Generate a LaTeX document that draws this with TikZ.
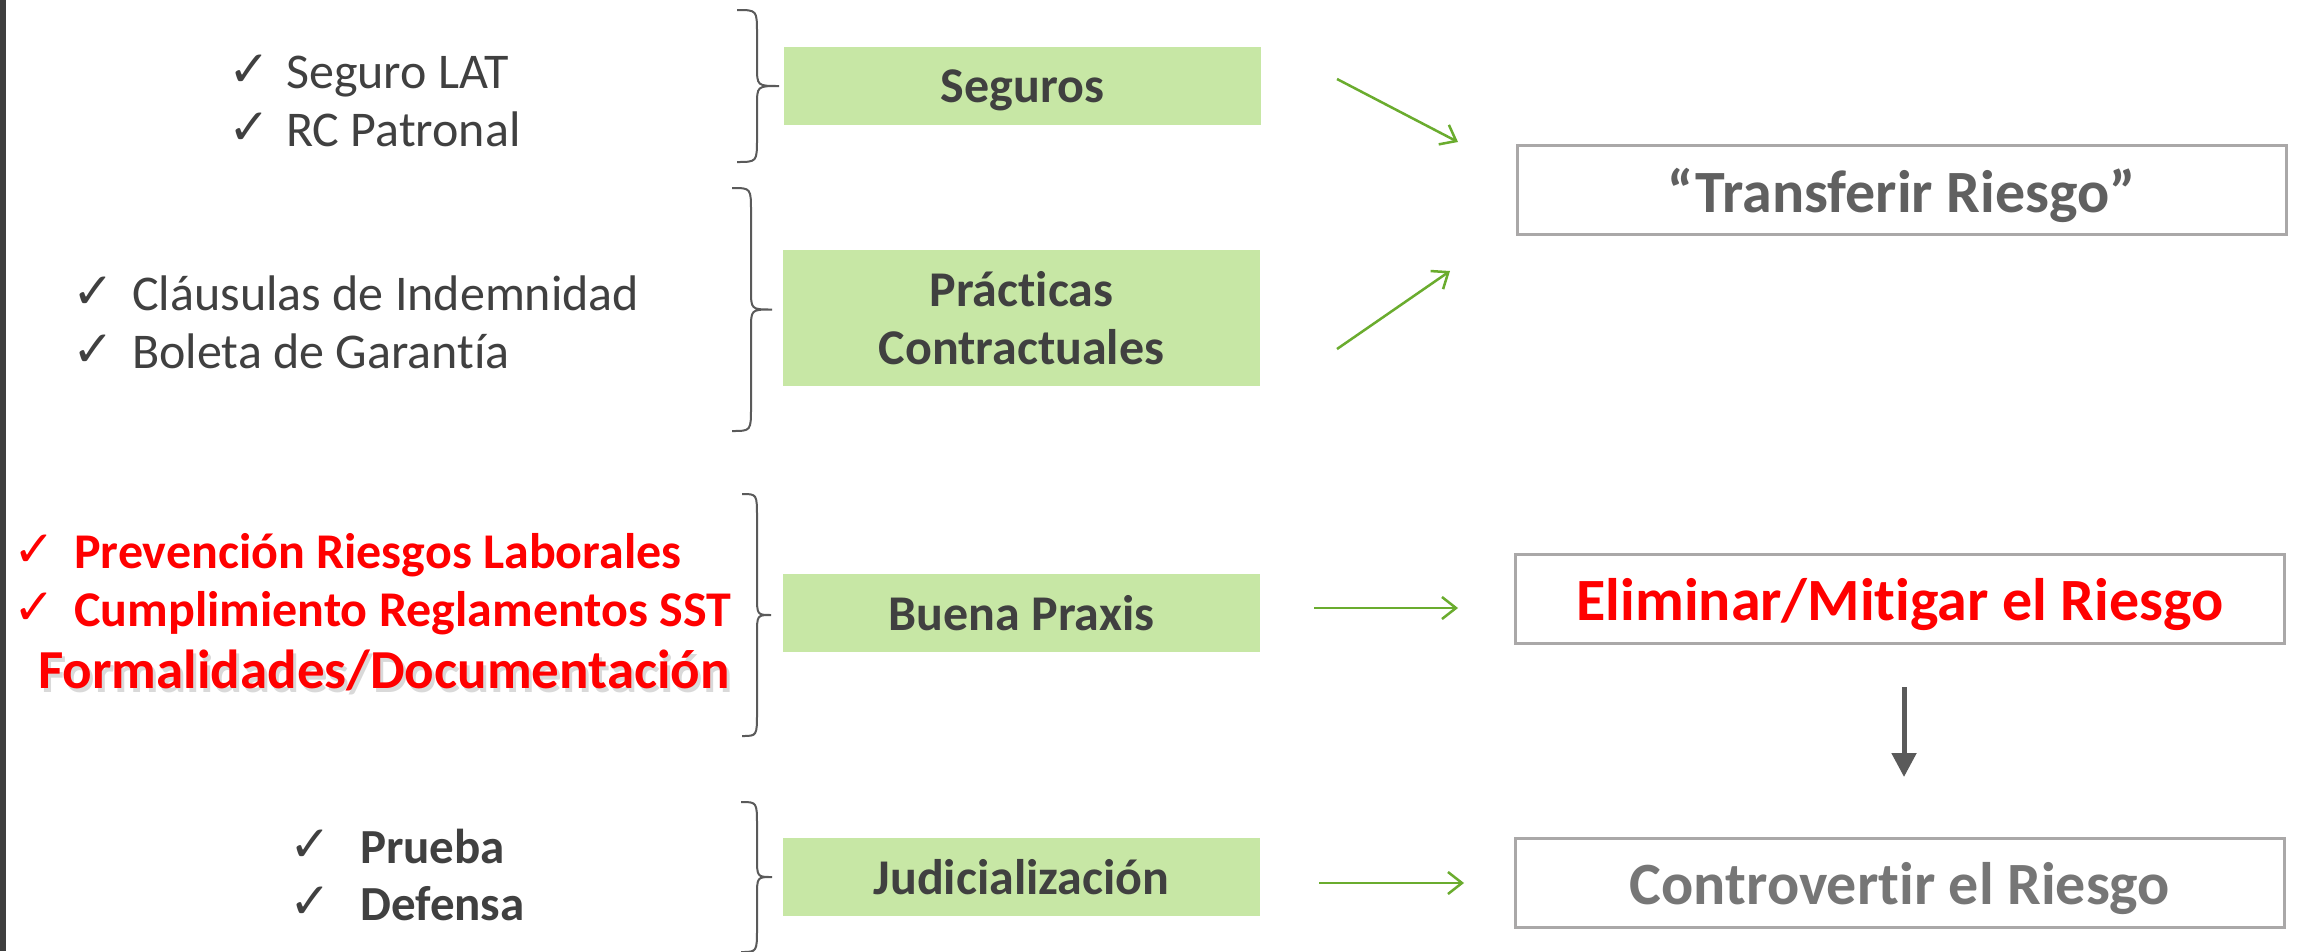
\documentclass[tikz,border=0pt]{standalone}
\usepackage{fontspec}
\setmainfont{Carlito}[Ligatures=NoCommon]
\newfontfamily\symfont{DejaVu Sans}
\usetikzlibrary{arrows.meta}
\definecolor{boxgreen}{RGB}{199,231,165}
\definecolor{arrowgreen}{RGB}{106,172,46}
\definecolor{txtdark}{RGB}{64,64,64}
\definecolor{txttrans}{RGB}{96,96,96}
\definecolor{txtcontr}{RGB}{118,118,118}
\definecolor{boxgray}{RGB}{170,168,168}
\definecolor{bracegray}{RGB}{90,90,90}
\definecolor{bargray}{RGB}{62,62,62}
\definecolor{myred}{RGB}{255,0,0}
\newcommand{\curlyb}[5]{% x0 x1 x2 ytop ybot
  \draw[bracegray,line width=2pt] (#1,#4) .. controls (#2,#4) .. (#2,#4+24)
    -- ({#2},{(#4+#5)/2-20}) .. controls ({#2},{(#4+#5)/2}) .. ({#3},{(#4+#5)/2})
    .. controls ({#2},{(#4+#5)/2}) .. ({#2},{(#4+#5)/2+20})
    -- (#2,#5-24) .. controls (#2,#5) .. (#1,#5);}
\begin{document}
\begin{tikzpicture}[x=1pt,y=-1pt,
  greenbox/.style={fill=boxgreen,draw=none,minimum width=477pt,minimum height=78pt,inner sep=0pt,
    text depth=0pt,text=txtdark,font=\fontsize{50}{58}\selectfont\bfseries,align=center},
  outbox/.style={draw=boxgray,line width=3pt,fill=white,minimum width=769pt,minimum height=89pt,inner sep=0pt,
    text depth=0pt,font=\fontsize{60}{70}\selectfont\bfseries},
  plain/.style={anchor=base west,inner sep=0pt,text=txtdark,font=\fontsize{50}{58}\selectfont},
  ck/.style={anchor=base west,inner sep=0pt,text=txtdark,font=\symfont\fontsize{50}{56}\selectfont},
  redtxt/.style={anchor=base west,inner sep=0pt,text=myred,font=\fontsize{50}{58}\selectfont\bfseries},
  boldtxt/.style={anchor=base west,inner sep=0pt,text=txtdark,font=\fontsize{49}{58}\selectfont\bfseries},
  garrow/.style={draw=arrowgreen,line width=2.5pt,-{Straight Barb[length=14pt,width=22pt,line width=2.5pt]}},
  darrow/.style={draw=bracegray,line width=5pt,-{Triangle[length=24pt,width=24pt]}}
]
\useasboundingbox (0,0) rectangle (2298,951);
\fill[white] (0,0) rectangle (2298,951);
\fill[bargray] (0,0) rectangle (6,951);

% green boxes
\node[greenbox] (seg) at (1022.5,86) {Seguros};
\node[greenbox,minimum height=136pt] (prac) at (1021.5,318) {Prácticas\\Contractuales};
\node[greenbox] (buena) at (1021.5,613) {Buena Praxis};
\node[greenbox] (jud) at (1021.5,877) {Judicialización};

% outcome boxes
\node[outbox,text=txttrans] (trans) at (1901.5,190) {“Transferir Riesgo”};
\node[outbox,text=myred] (elim) at (1900,599) {Eliminar/Mitigar el Riesgo};
\node[outbox,text=txtcontr] (contr) at (1900,883) {Controvertir el Riesgo};

% braces
\curlyb{737}{757}{779}{10}{162}
\curlyb{732}{751}{772}{188}{431}
\curlyb{742}{757}{771}{494}{736}
\curlyb{741}{757}{772}{802}{952}

% left lists
\node[ck] (c1) at (228,86) {✓};
\node[plain] (t1) at (286,88) {Seguro LAT};
\node[ck] (c2) at (228,144) {✓};
\node[plain] (t2) at (286,146) {RC Patronal};
\node[ck] (c3) at (72,308) {✓};
\node[plain] (t3) at (132,310) {Cláusulas de Indemnidad};
\node[ck] (c4) at (72,366) {✓};
\node[plain] (t4) at (132,368) {Boleta de Garantía};

\node[ck,text=myred] (c5) at (13,566) {✓};
\node[redtxt] (t5) at (74,568) {Prevención Riesgos Laborales};
\node[ck,text=myred] (c6) at (13,624) {✓};
\node[redtxt] (t6) at (74,626) {Cumplimiento Reglamentos SST};
\node[redtxt,font=\fontsize{55}{62}\selectfont\bfseries,text=black,opacity=0.15] (t7s) at (41,692) {Formalidades/Documentación};
\node[redtxt,font=\fontsize{55}{62}\selectfont\bfseries] (t7) at (38,688) {Formalidades/Documentación};

\node[ck] (c8) at (289,861) {✓};
\node[boldtxt] (t8) at (360,863) {Prueba};
\node[ck] (c9) at (289,918) {✓};
\node[boldtxt] (t9) at (360,920) {Defensa};

% arrow end points
\coordinate (a1s) at (1337,79);
\coordinate (a1e) at (1458,142);
\coordinate (a2s) at (1337,349);
\coordinate (a2e) at (1450,271);
\coordinate (a3s) at (1314,608);
\coordinate (a3e) at (1458,608);
\coordinate (a4s) at (1319,883);
\coordinate (a4e) at (1464,883);
\coordinate (d1s) at (1904,687);
\coordinate (d1e) at (1904,777);

\draw[garrow] (a1s) -- (a1e);
\draw[garrow] (a2s) -- (a2e);
\draw[garrow] (a3s) -- (a3e);
\draw[garrow] (a4s) -- (a4e);
\draw[darrow] (d1s) -- (d1e);
\end{tikzpicture}
\end{document}
